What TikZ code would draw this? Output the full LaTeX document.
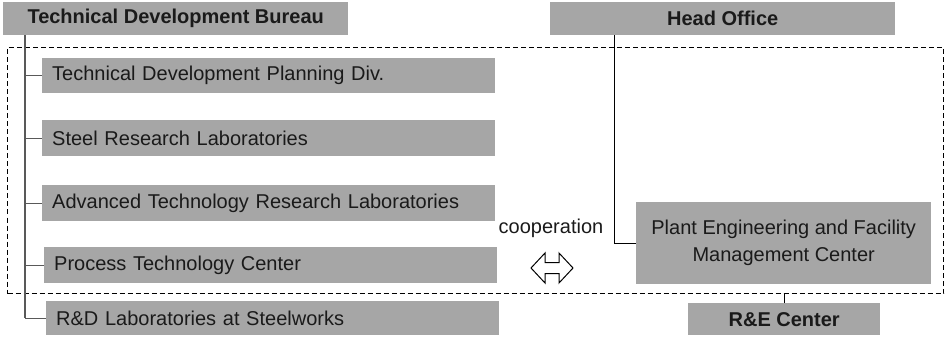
\documentclass[tikz,border=0pt]{standalone}
\usepackage{fontspec}
\setmainfont{Liberation Sans}
\usetikzlibrary{calc}
\definecolor{boxgray}{HTML}{A6A6A6}
\definecolor{spinegray}{HTML}{595959}
\definecolor{ink}{HTML}{1A1A1A}
\begin{document}
\begin{tikzpicture}[x=1pt,y=-1pt,
  every node/.style={text=ink},
  headbox/.style={fill=boxgray, inner sep=0pt, anchor=north west, font=\fontsize{20}{24}\selectfont\bfseries},
  leafbox/.style={fill=boxgray, inner xsep=10pt, inner ysep=0pt, text width=433pt, align=left, anchor=north west, font=\fontsize{20}{24}\selectfont},
  centerbox/.style={fill=boxgray, inner sep=0pt, anchor=north west, align=center, font=\fontsize{20}{27}\selectfont},
  spine/.style={draw=spinegray, line width=1.8pt},
  branch/.style={draw=spinegray, line width=1.3pt},
  link/.style={draw=black, line width=1pt},
  frame/.style={draw=black, dashed, dash pattern=on 5pt off 3pt, line width=1pt, inner sep=0pt, anchor=north west}
]
\useasboundingbox (0,0) rectangle (948,337);
% group frame
\node[frame, minimum width=936pt, minimum height=246pt] (grp) at (7,47) {};
% top boxes
\node[headbox, minimum width=345pt, minimum height=33pt] (bur) at (3,2) {Technical Development Bureau};
\node[headbox, minimum width=345pt, minimum height=33pt] (head) at (550,2) {Head Office};
% leaf boxes
\node[leafbox, minimum height=35pt] (plan) at (42,58) {Technical Development Planning Div.};
\node[leafbox, minimum height=36pt] (steel) at (42,120) {Steel Research Laboratories};
\node[leafbox, minimum height=36pt] (adv) at (42,185) {Advanced Technology Research Laboratories};
\node[leafbox, minimum height=36pt] (proc) at (44,247) {Process Technology Center};
\node[leafbox, minimum height=34pt] (rnd) at (46,301) {R\&D Laboratories at Steelworks};
% right boxes
\node[centerbox, minimum width=295pt, minimum height=82pt] (pe) at (636,202) {Plant Engineering and Facility\\Management Center};
\node[headbox, minimum width=192pt, minimum height=32pt] (rne) at (688,303) {R\&E Center};
% cooperation
\node[font=\fontsize{20}{24}\selectfont, inner sep=0pt] (coop) at (551,228) {cooperation};
\coordinate (ar) at (552,268);
\draw[link, line join=miter] ($(ar)+(-21,0)$) -- ++(14,-15) -- ++(0,9.5) -- ++(14,0) -- ++(0,-9.5) -- ++(14,15) -- ++(-14,15) -- ++(0,-9.5) -- ++(-14,0) -- ++(0,9.5) -- cycle;
% bureau tree
\coordinate (sp) at ($(bur.south west)+(22,0)$);
\draw[spine] (sp) -- (sp |- rnd.west);
\foreach \n in {plan,steel,adv,proc,rnd} {
  \draw[branch] (sp |- \n.west) -- (\n.west);
}
% head office link
\coordinate (hd) at ($(head.south west)+(64,0)$);
\draw[link] (hd) |- (pe.west);
% R&E link
\draw[link] (rne.north) -- (rne.north |- grp.south);
\end{tikzpicture}
\end{document}
